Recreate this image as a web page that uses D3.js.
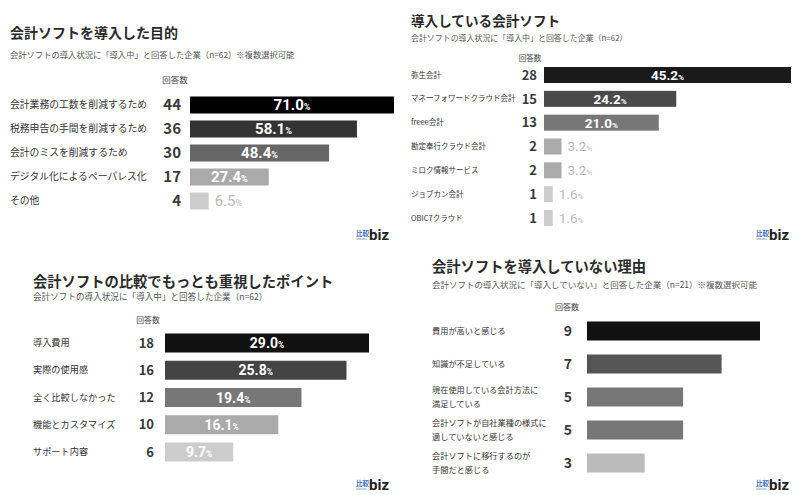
<!DOCTYPE html>
<html><head><meta charset="utf-8">
<script src="https://cdn.jsdelivr.net/npm/d3@7"></script>
<style>
body{margin:0;background:#fff;}
svg{display:block;font-family:"Noto Sans CJK JP","Noto Sans",sans-serif;}
</style></head><body>
<svg id="c" width="800" height="495"></svg>
<script>
// ---- Data ----
const p1Categories = ["会計業務の工数を削減するため","税務申告の手間を削減するため","会計のミスを削減するため","デジタル化によるペーパレス化","その他"];
const p1Counts = [44,36,30,17,4];
const p1Percents = [71.0,58.1,48.4,27.4,6.5];

const p2Categories = ["弥生会計","マネーフォワードクラウド会計","freee会計","勘定奉行クラウド会計","ミロク情報サービス","ジョブカン会計","OBIC7クラウド"];
const p2Counts = [28,15,13,2,2,1,1];
const p2Percents = [45.2,24.2,21.0,3.2,3.2,1.6,1.6];

const p3Categories = ["導入費用","実際の使用感","全く比較しなかった","機能とカスタマイズ","サポート内容"];
const p3Counts = [18,16,12,10,6];
const p3Percents = [29.0,25.8,19.4,16.1,9.7];

const p4Categories = [["費用が高いと感じる"],["知識が不足している"],["現在使用している会計方法に","満足している"],["会計ソフトが自社業種の様式に","適していないと感じる"],["会計ソフトに移行するのが","手間だと感じる"]];
const p4Counts = [9,7,5,5,3];

const titles = ["会計ソフトを導入した目的","導入している会計ソフト","会計ソフトの比較でもっとも重視したポイント","会計ソフトを導入していない理由"];
const subtitles = ["会計ソフトの導入状況に「導入中」と回答した企業（n=62）※複数選択可能",
  "会計ソフトの導入状況に「導入中」と回答した企業（n=62）",
  "会計ソフトの導入状況に「導入中」と回答した企業（n=62）",
  "会計ソフトの導入状況に「導入していない」と回答した企業（n=21）※複数選択可能"];
const countHeader = "回答数";

const svg = d3.select("#c");

function panel(cfg){
  const g = svg.append("g");
  g.append("text").attr("x",cfg.tx).attr("y",cfg.ty).attr("font-size",cfg.tsize).attr("font-weight",700).attr("fill","#2a2a2a").text(cfg.title);
  g.append("text").attr("x",cfg.tx).attr("y",cfg.sy).attr("font-size",cfg.ssize).attr("fill","#555").text(cfg.subtitle);
  g.append("text").attr("x",cfg.hx).attr("y",cfg.hy).attr("dy","0.35em").attr("font-size",cfg.hsize).attr("text-anchor","middle").attr("fill","#444").text(countHeader);
  const y = d3.scalePoint().domain(d3.range(cfg.cats.length)).range([cfg.y0,cfg.y1]);
  const x = d3.scaleLinear().domain([0,cfg.xmax]).range([cfg.bx,cfg.bx1]);
  cfg.cats.forEach((c,i)=>{
    const cy = y(i);
    const lines = Array.isArray(c)?c:[c];
    const t = g.append("text").attr("x",cfg.tx).attr("font-size",cfg.lsize).attr("fill","#333");
    lines.forEach((ln,k)=>{
      t.append("tspan").attr("x",cfg.tx).attr("y",cy + (k-(lines.length-1)/2)*cfg.lsize*1.75).attr("dy","0.35em").text(ln);
    });
    g.append("text").attr("x",cfg.cx).attr("y",cy).attr("dy","0.36em").attr("text-anchor","end")
      .attr("font-size",cfg.csize).attr("font-weight",700).attr("fill","#3a3a3a").text(cfg.counts[i]);
    const v = cfg.vals[i];
    const w = x(v)-x(0);
    g.append("rect").attr("x",x(0)).attr("y",cy-cfg.bh/2).attr("width",w).attr("height",cfg.bh).attr("fill",cfg.colors[i]);
    if(cfg.pcts){
      const p = cfg.pcts[i];
      const inside = w > 50;
      const tt = g.append("text").attr("y",cy).attr("dy","0.36em").attr("font-weight",700)
        .attr("font-size",cfg.psize).attr("fill",inside?"#fff":"#bbb").attr("font-family","Roboto, 'Noto Sans', sans-serif");
      if(inside){ tt.attr("x",x(0)+w/2).attr("text-anchor","middle"); }
      else { tt.attr("x",x(v)+6).attr("text-anchor","start").attr("font-weight",400); }
      tt.append("tspan").text(p.toFixed(1));
      tt.append("tspan").attr("font-size",cfg.psize*0.6).text("%");
    }
  });
  // logo
  const lg = g.append("g").attr("transform",`translate(${cfg.lx},${cfg.ly})`);
  lg.append("text").attr("x",0).attr("y",-2).attr("font-size",6.5).attr("font-weight",700).attr("fill","#3a6fc4").text("比較");
  lg.append("text").attr("x",0).attr("y",2).attr("font-size",2.5).attr("fill","#3a6fc4").text("SHIKAKU");
  lg.append("text").attr("x",13).attr("y",2).attr("font-size",15).attr("font-weight",700).attr("fill","#222").attr("font-family","Roboto, sans-serif").text("biz");
}

panel({title:titles[0],subtitle:subtitles[0],cats:p1Categories,counts:p1Counts,vals:p1Percents,pcts:p1Percents,
  tx:10,ty:38,tsize:14,sy:58,ssize:8.3,hx:175,hy:80,hsize:8.5,
  y0:105,y1:201,bx:190,bx1:394,xmax:71.0,bh:17,cx:181,csize:15,lsize:9.8,psize:15,
  colors:["#000000","#333333","#666666","#aaaaaa","#cccccc"],lx:356,ly:238});

panel({title:titles[1],subtitle:subtitles[1],cats:p2Categories,counts:p2Counts,vals:p2Percents,pcts:p2Percents,
  tx:411,ty:26,tsize:13.6,sy:41,ssize:7.95,hx:530,hy:58,hsize:7.5,
  y0:75,y1:218,bx:544,bx1:791,xmax:45.2,bh:16,cx:537,csize:13,lsize:7.5,psize:13.5,
  colors:["#1a1a1a","#4a4a4a","#777777","#aaaaaa","#aaaaaa","#cccccc","#cccccc"],lx:756,ly:238});

panel({title:titles[2],subtitle:subtitles[2],cats:p3Categories,counts:p3Counts,vals:p3Percents,pcts:p3Percents,
  tx:33,ty:287,tsize:14.3,sy:300,ssize:8.6,hx:148,hy:320,hsize:7.8,
  y0:343,y1:452,bx:165,bx1:369,xmax:29.0,bh:19,cx:154,csize:13,lsize:9.2,psize:14,
  colors:["#111111","#444444","#777777","#aaaaaa","#cccccc"],lx:356,ly:488});

panel({title:titles[3],subtitle:subtitles[3],cats:p4Categories,counts:p4Counts,vals:p4Counts,pcts:null,
  tx:432,ty:272,tsize:14.3,sy:288,ssize:8.5,hx:567,hy:307,hsize:8,
  y0:331,y1:463,bx:587,bx1:760,xmax:9,bh:19,cx:572,csize:14,lsize:8.2,psize:12,
  colors:["#111111","#555555","#777777","#777777","#bbbbbb"],lx:756,ly:488});
</script>
</body></html>
